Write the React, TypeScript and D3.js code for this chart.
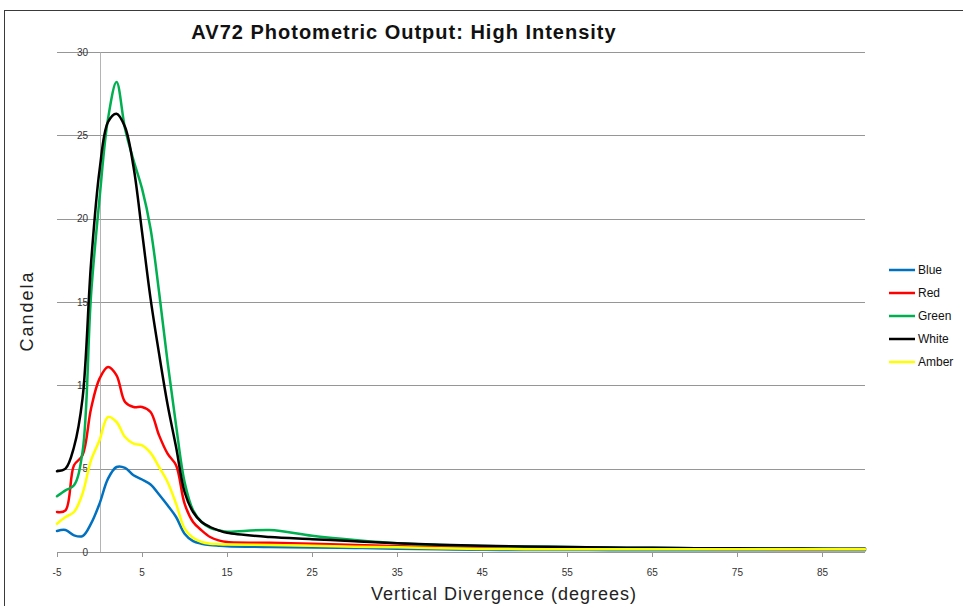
import React, { useEffect, useRef } from 'react';
import * as d3 from 'd3';

// degrees
const angles = [-5, -4, -3, -2, -1, 0, 1, 2, 3, 4, 5, 6, 7, 8, 9, 10, 11, 12, 13, 14, 15,
  20, 25, 30, 35, 40, 45, 50, 55, 60, 65, 70, 75, 80, 85, 90];

const blue = [1.26, 1.32, 1.0, 0.95, 1.7, 2.9, 4.4, 5.1, 5.05, 4.6, 4.35, 4.05, 3.45, 2.8, 2.1, 1.1, 0.65, 0.5, 0.42, 0.38, 0.35,
  0.3, 0.27, 0.24, 0.2, 0.16, 0.13, 0.12, 0.12, 0.11, 0.11, 0.1, 0.1, 0.1, 0.1, 0.1];
const red = [2.4, 2.5, 5.2, 5.8, 8.6, 10.4, 11.1, 10.6, 9.0, 8.7, 8.7, 8.4, 7.0, 5.9, 5.2, 2.9, 1.8, 1.3, 0.9, 0.7, 0.6,
  0.55, 0.5, 0.42, 0.35, 0.3, 0.27, 0.25, 0.24, 0.22, 0.2, 0.19, 0.18, 0.17, 0.16, 0.16];
const green = [3.35, 3.7, 4.0, 6.0, 15.4, 21.2, 26.0, 28.2, 25.4, 23.5, 21.8, 19.4, 15.6, 11.4, 7.6, 4.2, 2.5, 1.8, 1.45, 1.3, 1.22,
  1.32, 0.97, 0.72, 0.52, 0.42, 0.36, 0.32, 0.3, 0.27, 0.25, 0.23, 0.21, 0.2, 0.19, 0.18];
const white = [4.85, 5.0, 6.3, 9.2, 17.3, 22.9, 25.8, 26.3, 25.5, 23.1, 19.2, 15.2, 11.9, 8.85, 6.3, 3.6, 2.4, 1.8, 1.5, 1.3, 1.15,
  0.9, 0.77, 0.64, 0.52, 0.43, 0.37, 0.33, 0.3, 0.27, 0.25, 0.23, 0.22, 0.21, 0.2, 0.2];
const amber = [1.7, 2.1, 2.4, 3.5, 5.5, 6.7, 8.1, 7.8, 6.9, 6.5, 6.4, 5.95, 5.1, 4.2, 2.9, 1.4, 0.85, 0.6, 0.5, 0.47, 0.45,
  0.42, 0.38, 0.32, 0.28, 0.22, 0.18, 0.17, 0.17, 0.16, 0.16, 0.16, 0.16, 0.16, 0.16, 0.16];

const seriesNames = ['Blue', 'Red', 'Green', 'White', 'Amber'];
const seriesValues = [blue, red, green, white, amber];
const seriesColors = ['#0070C0', '#FF0000', '#00B050', '#000000', '#FFFF00'];

const xTicks = [-5, 5, 15, 25, 35, 45, 55, 65, 75, 85];
const yTicks = [0, 5, 10, 15, 20, 25, 30];

const title = 'AV72 Photometric Output: High Intensity';
const xTitle = 'Vertical Divergence (degrees)';
const yTitle = 'Candela';

const W = 963;
const H = 606;

const App: React.FC = () => {
  const ref = useRef<SVGSVGElement | null>(null);

  useEffect(() => {
    if (!ref.current) return;
    const svg = d3.select(ref.current);
    svg.selectAll('*').remove();

    const left = 57, right = 865, top = 52, bottom = 552;

    const x = d3.scaleLinear().domain([-5, 90]).range([left, right]);
    const y = d3.scaleLinear().domain([0, 30]).range([bottom, top]);

    svg.append('rect')
      .attr('x', 4.5).attr('y', 10.5)
      .attr('width', W).attr('height', H)
      .attr('fill', 'white')
      .attr('stroke', '#3a3a3a')
      .attr('stroke-width', 1);

    // gridlines
    svg.append('g')
      .selectAll('line')
      .data(yTicks)
      .join('line')
      .attr('x1', left).attr('x2', right)
      .attr('y1', d => Math.round(y(d)) + 0.5).attr('y2', d => Math.round(y(d)) + 0.5)
      .attr('stroke', '#969696')
      .attr('stroke-width', 1);

    // vertical axis at x = 0
    const x0 = Math.round(x(0)) + 0.5;
    svg.append('line')
      .attr('x1', x0).attr('x2', x0)
      .attr('y1', top).attr('y2', bottom)
      .attr('stroke', '#b4b4b4');

    svg.append('g')
      .selectAll('line')
      .data(yTicks)
      .join('line')
      .attr('x1', x0 - 5).attr('x2', x0)
      .attr('y1', d => Math.round(y(d)) + 0.5).attr('y2', d => Math.round(y(d)) + 0.5)
      .attr('stroke', '#969696');

    svg.append('g')
      .selectAll('text')
      .data(yTicks)
      .join('text')
      .attr('x', 88)
      .attr('y', d => y(d) + 3.5)
      .attr('text-anchor', 'end')
      .attr('font-family', 'Liberation Sans, Arial, sans-serif')
      .attr('font-size', 10)
      .attr('fill', '#333')
      .text(d => String(d));

    // x ticks
    svg.append('g')
      .selectAll('line')
      .data(xTicks)
      .join('line')
      .attr('x1', d => Math.round(x(d)) + 0.5).attr('x2', d => Math.round(x(d)) + 0.5)
      .attr('y1', bottom).attr('y2', bottom + 5)
      .attr('stroke', '#969696');

    svg.append('g')
      .selectAll('text')
      .data(xTicks)
      .join('text')
      .attr('x', d => x(d))
      .attr('y', 576)
      .attr('text-anchor', 'middle')
      .attr('font-family', 'Liberation Sans, Arial, sans-serif')
      .attr('font-size', 10)
      .attr('fill', '#333')
      .text(d => String(d));

    // series
    const line = d3.line<number>()
      .x((_, i) => x(angles[i]))
      .y(d => y(d))
      .curve(d3.curveCatmullRom.alpha(0.5));

    seriesValues.forEach((vals, i) => {
      svg.append('path')
        .datum(vals)
        .attr('d', line)
        .attr('fill', 'none')
        .attr('stroke', seriesColors[i])
        .attr('stroke-width', 2.5)
        .attr('stroke-linejoin', 'round')
        .attr('stroke-linecap', 'round');
    });

    // legend
    const legend = svg.append('g');
    seriesNames.forEach((name, i) => {
      const ly = 270 + i * 23;
      legend.append('line')
        .attr('x1', 889).attr('x2', 915)
        .attr('y1', ly).attr('y2', ly)
        .attr('stroke', seriesColors[i])
        .attr('stroke-width', 2.5);
      legend.append('text')
        .attr('x', 918).attr('y', ly + 4)
        .attr('font-family', 'Liberation Sans, Arial, sans-serif')
        .attr('font-size', 12)
        .attr('fill', '#111')
        .text(name);
    });

    // titles
    svg.append('text')
      .attr('x', 404).attr('y', 39)
      .attr('text-anchor', 'middle')
      .attr('font-family', 'Liberation Sans, Arial, sans-serif')
      .attr('font-weight', 'bold')
      .attr('font-size', 20)
      .attr('letter-spacing', 1)
      .attr('fill', '#111')
      .text(title);

    svg.append('text')
      .attr('x', 504).attr('y', 600)
      .attr('text-anchor', 'middle')
      .attr('font-family', 'Liberation Sans, Arial, sans-serif')
      .attr('font-size', 18)
      .attr('letter-spacing', 1)
      .attr('fill', '#222')
      .text(xTitle);

    svg.append('text')
      .attr('transform', 'translate(33,311) rotate(-90)')
      .attr('text-anchor', 'middle')
      .attr('font-family', 'Liberation Sans, Arial, sans-serif')
      .attr('font-size', 18)
      .attr('letter-spacing', 2)
      .attr('fill', '#222')
      .text(yTitle);
  }, []);

  return (
    <svg
      ref={ref}
      width={W}
      height={H}
      style={{ position: 'absolute', left: 0, top: 0, display: 'block' }}
    />
  );
};

export default App;
